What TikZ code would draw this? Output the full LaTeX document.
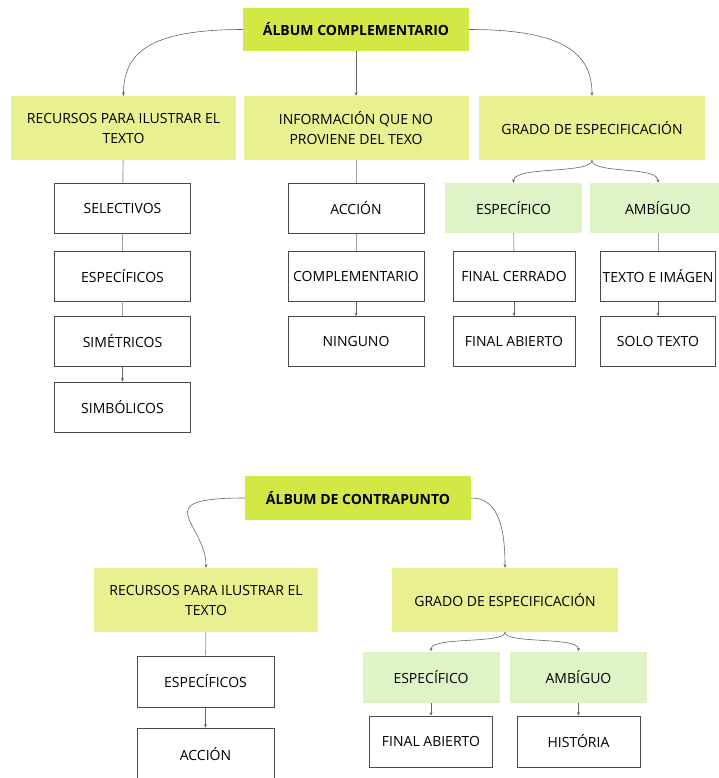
\documentclass[tikz,border=0pt]{standalone}
\usepackage{fontspec}
\setmainfont{Open Sans}
\usetikzlibrary{arrows.meta}
\definecolor{rootgreen}{HTML}{D2E845}
\definecolor{topicyellow}{HTML}{E9F08F}
\definecolor{kindgreen}{HTML}{DEF3C6}
\definecolor{boxline}{HTML}{4A4A4A}
\definecolor{linkgray}{HTML}{A0A0A0}

\begin{document}
\begin{tikzpicture}[x=1pt, y=-1pt,
  root/.style={fill=rootgreen, minimum width=226pt, minimum height=43pt, inner sep=0pt, font=\fontsize{14}{16}\selectfont\bfseries},
  topic/.style={fill=topicyellow, minimum width=225pt, minimum height=64pt, inner sep=0pt, align=center, font=\fontsize{14}{20}\selectfont},
  kind/.style={fill=kindgreen, minimum width=137pt, minimum height=50pt, inner sep=0pt, font=\fontsize{14}{16}\selectfont},
  leaf/.style={draw=boxline, line width=0.8pt, fill=white, minimum width=136pt, minimum height=50pt, inner sep=0pt, font=\fontsize{14}{16}\selectfont},
  plain/.style={-, draw=linkgray, line width=0.9pt},
  pointed/.style={-{Stealth[length=3.5pt,width=3pt]}, draw=boxline!85, line width=0.6pt}]
\useasboundingbox (0,0) rectangle (718,778);

\node[root] (root1) at (356, 29.5) {ÁLBUM COMPLEMENTARIO};
\node[topic] (rec1) at (123.5, 128) {RECURSOS PARA ILUSTRAR EL\\TEXTO};
\node[topic] (info1) at (356, 128) {INFORMACIÓN QUE NO\\PROVIENE DEL TEXO};
\node[topic, minimum width=226pt] (grado1) at (592, 128) {GRADO DE ESPECIFICACIÓN};
\node[leaf] (sel1) at (122.5, 208.5) {SELECTIVOS};
\node[leaf] (esp1) at (122.5, 276) {ESPECÍFICOS};
\node[leaf] (sim1) at (122.5, 341.5) {SIMÉTRICOS};
\node[leaf] (simb1) at (122.5, 407) {SIMBÓLICOS};
\node[leaf] (acc1) at (356, 208.5) {ACCIÓN};
\node[leaf] (comp1) at (356, 276) {COMPLEMENTARIO};
\node[leaf] (ning1) at (356, 341.5) {NINGUNO};
\node[kind] (spec1) at (513.5, 208) {ESPECÍFICO};
\node[kind, minimum width=136pt] (amb1) at (658, 208) {AMBÍGUO};
\node[leaf, minimum width=122pt] (fcer1) at (514, 276.5) {FINAL CERRADO};
\node[leaf, minimum width=122pt] (fab1) at (514, 341.5) {FINAL ABIERTO};
\node[leaf, minimum width=115pt] (texto1) at (658, 276.5) {TEXTO E IMÁGEN};
\node[leaf, minimum width=115pt] (solo1) at (658, 341.5) {SOLO TEXTO};

\draw[pointed] (root1.west) .. controls +(-95,0) and +(0,-42) .. (rec1.north);
\draw[pointed] (root1.east) .. controls +(95,0) and +(0,-42) .. (grado1.north);
\path[pointed] (root1) edge (info1);
\path[plain] (rec1) edge (sel1);\path[plain] (sel1) edge (esp1);\path[plain] (esp1) edge (sim1);\path[pointed] (sim1) edge (simb1);
\path[plain] (info1) edge (acc1);\path[plain] (acc1) edge (comp1);\path[pointed] (comp1) edge (ning1);
\draw[pointed] (grado1.south) .. controls +(0,14) and +(0,-17) .. (spec1.north);
\draw[pointed] (grado1.south) .. controls +(0,14) and +(0,-17) .. (amb1.north);
\path[plain] (spec1) edge (fcer1);\path[pointed] (fcer1) edge (fab1);
\path[plain] (amb1) edge (texto1);\path[pointed] (texto1) edge (solo1);

\node[root, minimum height=44pt] (root2) at (358, 498) {ÁLBUM DE CONTRAPUNTO};
\node[topic, minimum width=224pt] (rec2) at (206, 600) {RECURSOS PARA ILUSTRAR EL\\TEXTO};
\node[topic, minimum width=226pt] (grado2) at (505, 600) {GRADO DE ESPECIFICACIÓN};
\node[leaf, minimum width=137pt, minimum height=51pt] (espc2) at (205.5, 681.5) {ESPECÍFICOS};
\node[leaf, minimum width=137pt, minimum height=52pt] (acc2) at (205.5, 754) {ACCIÓN};
\node[kind, minimum height=51pt] (spec2) at (431, 677) {ESPECÍFICO};
\node[kind, minimum height=51pt] (amb2) at (578.5, 677) {AMBÍGUO};
\node[leaf, minimum width=123pt, minimum height=51pt] (fab2) at (431, 741.5) {FINAL ABIERTO};
\node[leaf, minimum width=123pt, minimum height=51pt] (hist2) at (578.5, 741.5) {HISTÓRIA};

\draw[pointed] (root2.west) .. controls +(-100,0) and +(0,-45) .. (rec2.north);
\draw[pointed] (root2.east) .. controls +(25,0) and +(0,-45) .. (grado2.north);
\path[plain] (rec2) edge (espc2);\path[pointed] (espc2) edge (acc2);
\draw[pointed] (grado2.south) .. controls +(0,12) and +(0,-15) .. (spec2.north);
\draw[pointed] (grado2.south) .. controls +(0,12) and +(0,-15) .. (amb2.north);
\path[pointed] (spec2) edge (fab2);\path[pointed] (amb2) edge (hist2);

\end{tikzpicture}
\end{document}
